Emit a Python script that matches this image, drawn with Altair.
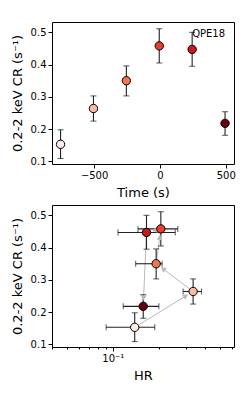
import math
import altair as alt
import pandas as pd

# ---- data ----
time_s = [-755, -505, -255, -5, 245, 495]
cr = [0.153, 0.264, 0.350, 0.458, 0.447, 0.218]
cr_lo = [0.109, 0.225, 0.303, 0.405, 0.395, 0.181]
cr_hi = [0.198, 0.303, 0.396, 0.511, 0.500, 0.254]
hr = [0.139, 0.335, 0.192, 0.206, 0.166, 0.158]
hr_lo = [0.0904, 0.288, 0.141, 0.146, 0.108, 0.117]
hr_hi = [0.188, 0.380, 0.210, 0.266, 0.256, 0.200]
colors = ["#fdeee7", "#fcbba1", "#f6734f", "#ef3b2c", "#cb181d", "#67000d"]
label_text = ["QPE18"]
label_x = [245]
label_y = [0.494]
hr_ticks = [0.04, 0.05, 0.06, 0.07, 0.08, 0.09, 0.1, 0.2, 0.3, 0.4, 0.5, 0.6]
time_ticks = [-500, 0, 500]
cr_ticks = [0.1, 0.2, 0.3, 0.4, 0.5]

W, H = 182, 142
TX = [-820, 563]
CRD = [0.092, 0.532]
HRD = [0.04, 0.62]
FONT = "DejaVu Sans"
ERR = "#222222"
ARROW = "#b8b8b8"
YTITLE = "0.2-2 keV CR (s⁻¹)"

df = pd.DataFrame(dict(t=time_s, cr=cr, cr_lo=cr_lo, cr_hi=cr_hi,
                       hr=hr, hr_lo=hr_lo, hr_hi=hr_hi, c=colors))
lab = pd.DataFrame(dict(x=label_x, y=label_y, text=label_text))

# arrow segments from point i to point i+1 (heads placed just before target)
def px(x):
    return W * math.log10(x / HRD[0]) / math.log10(HRD[1] / HRD[0])
def py(y):
    return H * (CRD[1] - y) / (CRD[1] - CRD[0])
def ix(p):
    return HRD[0] * 10 ** (p / W * math.log10(HRD[1] / HRD[0]))
def iy(p):
    return CRD[1] - p / H * (CRD[1] - CRD[0])

rows = []
for i in range(len(hr) - 1):
    sx, sy = px(hr[i]), py(cr[i])
    tx, ty = px(hr[i + 1]), py(cr[i + 1])
    d = math.hypot(tx - sx, ty - sy)
    ux, uy = (tx - sx) / d, (ty - sy) / d
    hx, hy = tx - ux * 8.5, ty - uy * 8.5
    ang = math.degrees(math.atan2(ux, -uy)) % 360
    rows.append(dict(x=hr[i], y=cr[i], x2=ix(hx), y2=iy(hy), ang=ang))
arr = pd.DataFrame(rows)

yscale = alt.Scale(domain=CRD, nice=False, zero=False)
yaxis = alt.Axis(values=cr_ticks, format=".1f", title=YTITLE,
                 labelOverlap=False, tickCount=20)

# ---- top panel: light curve ----
tx_enc = alt.X("t:Q", scale=alt.Scale(domain=TX, nice=False, zero=False),
               axis=alt.Axis(values=time_ticks, format="d", title="Time (s)",
                             labelOverlap=False, tickCount=20))
tb = alt.Chart(df)
top = alt.layer(
    tb.mark_rule(color=ERR, strokeWidth=1.1).encode(
        x=tx_enc, y=alt.Y("cr_lo:Q", scale=yscale, axis=yaxis), y2="cr_hi:Q"),
    tb.mark_tick(orient="horizontal", color=ERR, size=6, thickness=1.1).encode(
        x="t:Q", y="cr_lo:Q"),
    tb.mark_tick(orient="horizontal", color=ERR, size=6, thickness=1.1).encode(
        x="t:Q", y="cr_hi:Q"),
    tb.mark_point(filled=True, shape="circle", size=70, opacity=1,
                  stroke="black", strokeWidth=1).encode(
        x="t:Q", y="cr:Q", fill=alt.Fill("c:N", scale=None)),
    alt.Chart(lab).mark_text(align="left", baseline="middle", font=FONT,
                             fontSize=10, color="black").encode(
        x="x:Q", y="y:Q", text="text:N"),
).properties(width=W, height=H)

# ---- bottom panel: HR vs CR ----
hscale = alt.Scale(type="log", domain=HRD, nice=False)
haxis = alt.Axis(values=hr_ticks, title="HR", labelOverlap=False, tickCount=30,
                 labelExpr="abs(datum.value-0.1)<1e-9 ? '10⁻¹' : ''",
                 tickSize={"condition": {"test": "abs(datum.value-0.1)<1e-9",
                                         "value": 4}, "value": 2})
b = alt.Chart(df)
a = alt.Chart(arr)
bottom = alt.layer(
    a.mark_rule(color=ARROW, strokeWidth=1).encode(
        x=alt.X("x:Q", scale=hscale, axis=haxis),
        y=alt.Y("y:Q", scale=yscale, axis=yaxis),
        x2="x2:Q", y2="y2:Q"),
    b.mark_rule(color=ERR, strokeWidth=1.1).encode(x="hr_lo:Q", x2="hr_hi:Q", y="cr:Q"),
    b.mark_rule(color=ERR, strokeWidth=1.1).encode(x="hr:Q", y="cr_lo:Q", y2="cr_hi:Q"),
    b.mark_tick(orient="horizontal", color=ERR, size=6, thickness=1.1).encode(x="hr:Q", y="cr_lo:Q"),
    b.mark_tick(orient="horizontal", color=ERR, size=6, thickness=1.1).encode(x="hr:Q", y="cr_hi:Q"),
    b.mark_tick(orient="vertical", color=ERR, size=6, thickness=1.1).encode(x="hr_lo:Q", y="cr:Q"),
    b.mark_tick(orient="vertical", color=ERR, size=6, thickness=1.1).encode(x="hr_hi:Q", y="cr:Q"),
    a.mark_point(filled=True, shape="triangle-up", size=36, opacity=1,
                 color=ARROW).encode(
        x="x2:Q", y="y2:Q", angle=alt.Angle("ang:Q", scale=None)),
    b.mark_point(filled=True, shape="circle", size=70, opacity=1,
                 stroke="black", strokeWidth=1).encode(
        x="hr:Q", y="cr:Q", fill=alt.Fill("c:N", scale=None)),
).properties(width=W, height=H)

chart = alt.vconcat(top, bottom, spacing=4).properties(
    padding={"left": 2, "top": 13, "right": 0, "bottom": 0}
).configure_view(stroke="black", strokeWidth=1).configure_axis(
    grid=False, domain=False, tickColor="black", tickWidth=1,
    labelFont=FONT, titleFont=FONT, labelFontSize=10, titleFontSize=13,
    labelColor="black", titleColor="black", titleFontWeight="normal",
    labelPadding=2, titlePadding=6,
).configure_axisY(tickSize=4).configure_axisX(tickSize=4)

chart.save("out.html", embed_options={"renderer": "svg", "actions": False})
